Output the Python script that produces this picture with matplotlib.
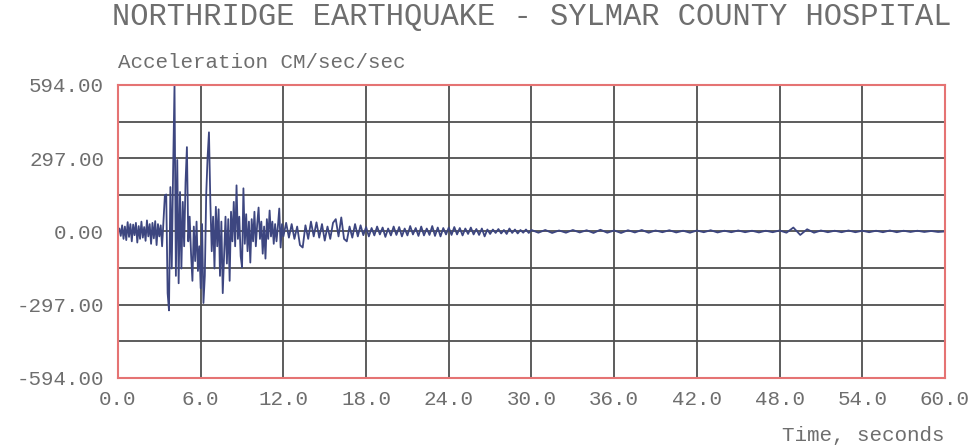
import numpy as np
import matplotlib
matplotlib.use("Agg")
import matplotlib.pyplot as plt
from matplotlib.ticker import MultipleLocator, FormatStrFormatter

# ---------------------------------------------------------------------------
# Data (acceleration, cm/sec/sec)
# ---------------------------------------------------------------------------

# 0.0 - 11.9 s, one sample every 0.1 s
acc_strong = [
    0, 12, -18, 25, -30, 20, -35, 38, -22, 30,
    -40, 28, -15, 35, -45, 22, -30, 40, -25, 18,
    -38, 45, -20, 30, -50, 35, -28, 42, -55, 30,
    -20, 25, -60, 40, 146, 150, -250, -320, 180, -150,
    250, 594, -180, 290, -210, 160, -150, 120, -60, 200,
    342, -40, 60, -90, -200, 20, -120, 40, -160, -60,
    -230, 30, -290, -180, 150, 300, 402, 120, -80, 60,
    -150, 100, -60, 90, -180, 40, -250, -100, 60, -130,
    50, -200, 80, -40, 120, -60, 187, -30, 60, -100,
    -145, 175, -50, 70, -80, 40, -126, 50, -40, 80,
    -60, 30, 97, -30, 40, -90, 20, -110, 50, -30,
    85, -20, 40, -50, 30, -40, 20, 93, -65, 30,
]

# 12.0 - 29.8 s, one sample every 0.2 s
acc_coda = [
    -20, 35, -25, 30, -30, 20, -55, -65, 25, -30,
    40, -20, 37, -25, 30, -37, 20, -30, 35, 50,
    -20, 57, -30, -40, 20, -25, 30, -20, 25, -15,
    18, -20, 14, -16, 20, -12, 16, -22, 12, -16,
    20, -14, 18, -20, 12, -16, 22, -12, 14, -18,
    20, -16, 12, -14, 22, -18, 16, -20, 14, -12,
    16, -14, 18, -12, 14, -16, 12, -10, 16, -12,
    10, -14, 12, -20, 8, -10, 8, -6, 10, -8,
    6, -10, 12, -6, 8, -8, 6, -5, 8, -6,
]

# 30.0 - 60.0 s, one sample every 0.5 s
acc_tail = [
    6, -5, 6, -6, 4, -5, 6, -4, 5, -6,
    7, -5, 4, -6, 5, -4, 6, -5, 4, -3,
    5, -4, 3, -5, 4, -3, 5, -4, 3, -3,
    4, -3, 3, -4, 3, -3, 4, -5, 16, -14,
    9, -5, 4, -3, 3, -3, 4, -3, 3, -3,
    3, -3, 4, -3, 3, -2, 3, -2, 2, -2,
    0,
]

time_ticks = [0, 6, 12, 18, 24, 30, 36, 42, 48, 54, 60]
acc_ticks = [-594, -297, 0, 297, 594]

# sample times for each segment
t_strong = 0.0 + 0.1 * np.arange(len(acc_strong))
t_coda = 12.0 + 0.2 * np.arange(len(acc_coda))
t_tail = 30.0 + 0.5 * np.arange(len(acc_tail))

time = np.concatenate([t_strong, t_coda, t_tail])
acc = np.concatenate([acc_strong, acc_coda, acc_tail])

# ---------------------------------------------------------------------------
# Plot
# ---------------------------------------------------------------------------

plt.rcParams['font.family'] = ['Liberation Mono', 'DejaVu Sans Mono']
text_color = '#6e6e6e'

fig = plt.figure(figsize=(9.76, 4.47), dpi=100)
ax = fig.add_axes([0.1209, 0.1544, 0.8473, 0.6555])

ax.plot(time, acc, color='#3d4680', linewidth=1.3, zorder=3)

ax.set_xlim(0, 60)
ax.set_ylim(-594, 594)
ax.set_xticks(time_ticks)
ax.set_yticks(acc_ticks)
ax.yaxis.set_minor_locator(MultipleLocator(148.5))
ax.xaxis.set_major_formatter(FormatStrFormatter('%.1f'))
ax.yaxis.set_major_formatter(FormatStrFormatter('%.2f'))

ax.grid(True, which='both', color='#4f4f4f', linewidth=1.3, zorder=1)
ax.tick_params(which='both', length=0, labelsize=15, labelcolor=text_color)
ax.tick_params(axis='x', pad=9)
ax.tick_params(axis='y', pad=10)

for side in ax.spines.values():
    side.set_color('#e57373')
    side.set_linewidth(1.5)
    side.set_zorder(4)

fig.text(0.545, 0.962, 'NORTHRIDGE EARTHQUAKE - SYLMAR COUNTY HOSPITAL',
         ha='center', va='center', fontsize=22, color=text_color)
fig.text(0.1209, 0.861, 'Acceleration CM/sec/sec',
         ha='left', va='center', fontsize=15, color=text_color)
fig.text(0.9682, 0.025, 'Time, seconds',
         ha='right', va='center', fontsize=15, color=text_color)

fig.savefig('out.png', dpi=100, facecolor='white')
